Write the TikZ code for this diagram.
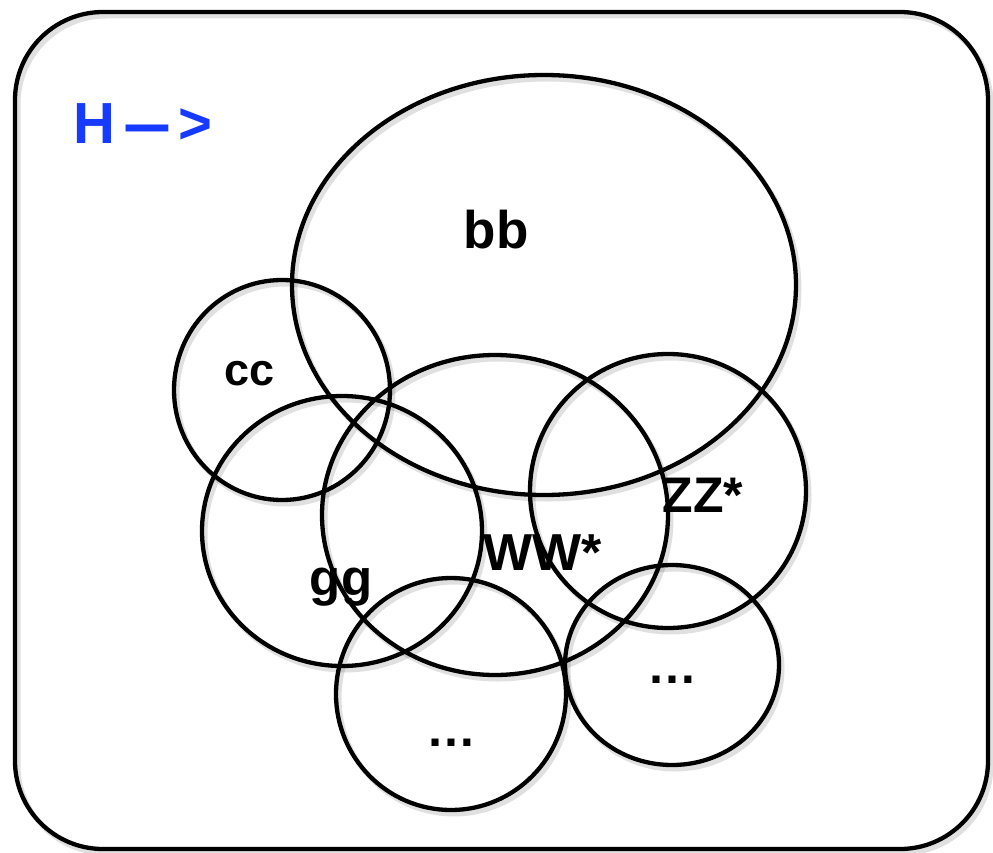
\documentclass[tikz,border=0pt]{standalone}
\usepackage{fontspec}
\setmainfont{Liberation Sans}
\definecolor{hblue}{RGB}{22,58,255}
\begin{document}
\begin{tikzpicture}[x=1pt,y=-1pt,
  ring/.style={line width=4.3pt,draw=black},
  shade/.style={line width=5pt,draw=black,opacity=0.12},
  lbl/.style={anchor=base,inner sep=0pt,font=\bfseries\fontsize{50}{50}\selectfont}]
\useasboundingbox (0,0) rectangle (993,853);
% shadows
\begin{scope}[shift={(3,4)}]
\draw[shade,rounded corners=88pt] (15,12) rectangle (988,849);
\draw[shade] (544,285) ellipse [x radius=252,y radius=210];
\draw[shade] (282,390) ellipse [x radius=108,y radius=110];
\draw[shade] (342,531) ellipse [x radius=140,y radius=135];
\draw[shade] (495,515) ellipse [x radius=173,y radius=160];
\draw[shade] (668,491) ellipse [x radius=138,y radius=137];
\draw[shade] (451,694) ellipse [x radius=115,y radius=116];
\draw[shade] (672,665) ellipse [x radius=107,y radius=100];
\end{scope}
% outer frame
\draw[ring,rounded corners=88pt] (15,12) rectangle (988,849);
% sets
\draw[ring] (544,285) ellipse [x radius=252,y radius=210];
\draw[ring] (282,390) ellipse [x radius=108,y radius=110];
\draw[ring] (342,531) ellipse [x radius=140,y radius=135];
\draw[ring] (495,515) ellipse [x radius=173,y radius=160];
\draw[ring] (668,491) ellipse [x radius=138,y radius=137];
\draw[ring] (451,694) ellipse [x radius=115,y radius=116];
\draw[ring] (672,665) ellipse [x radius=107,y radius=100];
% labels
\node[lbl,anchor=base west,text=hblue,font=\bfseries\fontsize{58}{58}\selectfont] (h) at (73,144) {H\hspace{4pt}\scalebox{2.9}[1]{-}\hspace{3pt}>};
\node[lbl,font=\bfseries\fontsize{53}{53}\selectfont] (bb) at (496,248) {bb};
\node[lbl,font=\bfseries\fontsize{45}{45}\selectfont] (cc) at (250,385) {cc};
\node[lbl,font=\bfseries\fontsize{51}{51}\selectfont] (gg) at (341,595) {gg};
\node[lbl,font=\bfseries\fontsize{52}{52}\selectfont] (ww) at (543,570) {WW*};
\node[lbl,font=\bfseries\fontsize{50}{50}\selectfont] (zz) at (703,512) {ZZ*};
\node[lbl] (d1) at (451,746) {…};
\node[lbl] (d2) at (672,683) {…};
\end{tikzpicture}
\end{document}
